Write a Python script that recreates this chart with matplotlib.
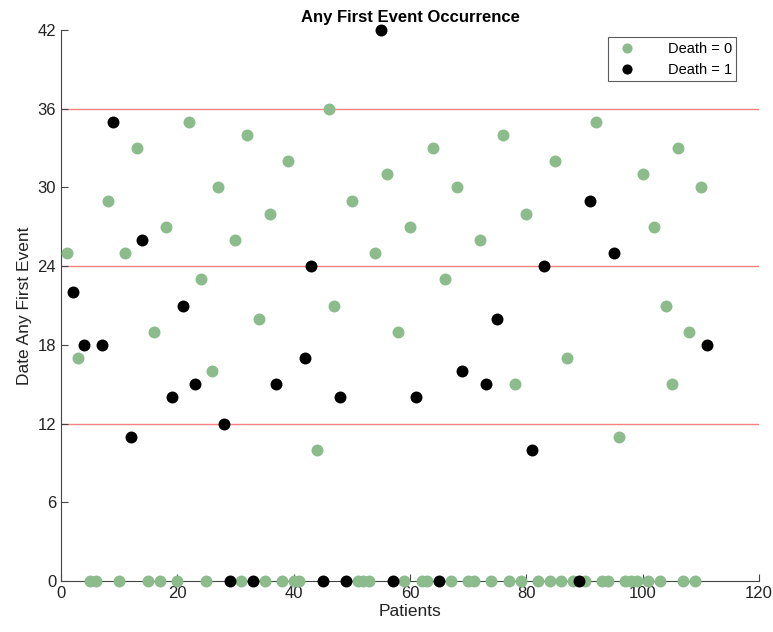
import matplotlib
matplotlib.use('Agg')
import matplotlib.pyplot as plt
import numpy as np

plt.rcParams['font.family'] = ['Liberation Sans', 'DejaVu Sans']

# patients who survived (Death = 0)
alive_id = [1, 3, 5, 6, 8, 10, 11, 13, 15, 16, 17, 18, 20, 22, 24, 25, 26, 27, 30, 31,
            32, 34, 35, 36, 38, 39, 40, 41, 44, 46, 47, 50, 51, 52, 53, 54, 56, 58, 59, 60,
            62, 63, 64, 66, 67, 68, 70, 71, 72, 74, 76, 77, 78, 79, 80, 82, 84, 85, 86, 87,
            88, 90, 92, 93, 94, 96, 97, 98, 99, 100, 101, 102, 103, 104, 105, 106, 107, 108,
            109, 110]
alive_date = [25, 17, 0, 0, 29, 0, 25, 33, 0, 19, 0, 27, 0, 35, 23, 0, 16, 30, 26, 0,
              34, 20, 0, 28, 0, 32, 0, 0, 10, 36, 21, 29, 0, 0, 0, 25, 31, 19, 0, 27,
              0, 0, 33, 23, 0, 30, 0, 0, 26, 0, 34, 0, 15, 0, 28, 0, 0, 32, 0, 17,
              0, 0, 35, 0, 0, 11, 0, 0, 0, 31, 0, 27, 0, 21, 15, 33, 0, 19,
              0, 30]

# patients who died (Death = 1)
dead_id = [2, 4, 7, 9, 12, 14, 19, 21, 23, 28, 29, 33, 37, 42, 43, 45, 48, 49, 55, 57,
           61, 65, 69, 73, 75, 81, 83, 89, 91, 95, 111]
dead_date = [22, 18, 18, 35, 11, 26, 14, 21, 15, 12, 0, 0, 15, 17, 24, 0, 14, 0, 42, 0,
             14, 0, 16, 15, 20, 10, 24, 0, 29, 25, 18]

ref_lines = [12, 24, 36]

fig = plt.figure(figsize=(7.73, 6.32), dpi=100)
ax = fig.add_axes([0.0789, 0.0807, 0.903, 0.8718])

for y in ref_lines:
    ax.axhline(y, color='#ff8080', lw=1.0, zorder=1)

ax.plot(alive_id, alive_date, 'o', color='#8cbb8c', ms=8.6, mec='none',
        label='Death = 0', clip_on=False, zorder=3)
ax.plot(dead_id, dead_date, 'o', color='black', ms=8.6, mec='none',
        label='Death = 1', clip_on=False, zorder=3)

ax.set_xlim(0, 120)
ax.set_ylim(0, 42)
ax.set_xticks(np.arange(0, 121, 20))
ax.set_yticks(np.arange(0, 43, 6))
ax.tick_params(direction='in', labelsize=12, length=5, color='#444444', labelcolor='#222222')
for s in ['top', 'right']:
    ax.spines[s].set_visible(False)
for s in ['left', 'bottom']:
    ax.spines[s].set_color('#444444')
    ax.spines[s].set_linewidth(0.8)

ax.set_xlabel('Patients', fontsize=12.5, color='#222222', labelpad=2)
ax.set_ylabel('Date Any First Event', fontsize=12.5, color='#222222', labelpad=4)
ax.set_title('Any First Event Occurrence', fontsize=12, fontweight='bold', pad=6)

leg = ax.legend(loc='upper right', fontsize=10.5, frameon=True, fancybox=False,
                edgecolor='#333333', borderpad=0.3, handletextpad=1.8,
                bbox_to_anchor=(0.978, 1.0), markerscale=0.85)
leg.get_frame().set_linewidth(0.8)

fig.savefig('out.png', dpi=100)
